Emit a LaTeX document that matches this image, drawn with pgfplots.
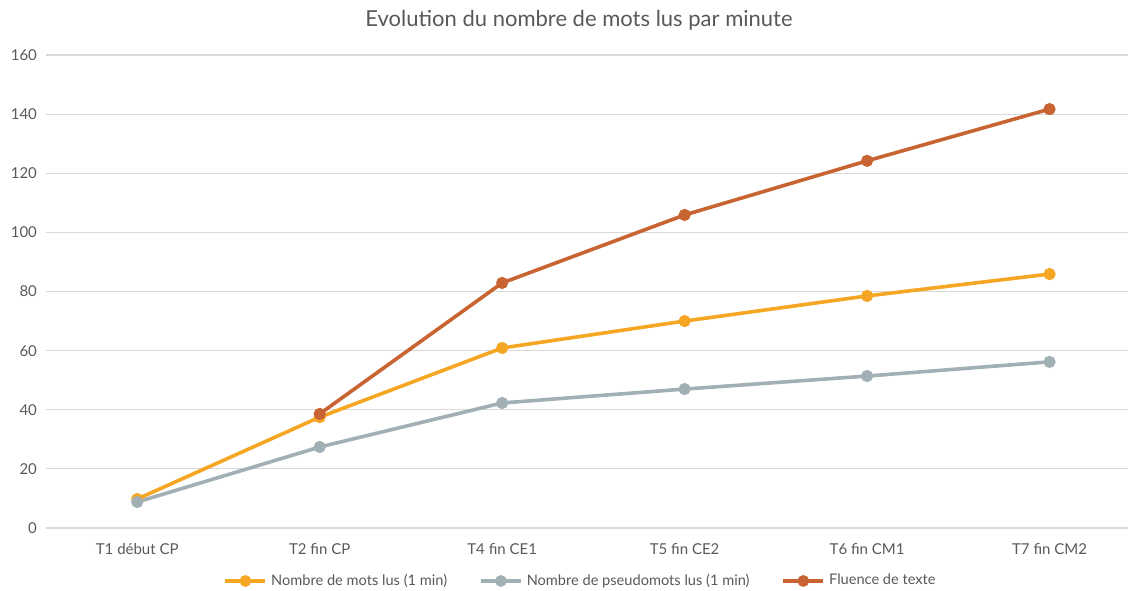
\documentclass[border=0pt]{standalone}
\usepackage{pgfplots}
\pgfplotsset{compat=1.18}
\usepackage{fontspec}
\setmainfont{Lato}
\definecolor{cOr}{RGB}{245,166,35}
\definecolor{cGr}{RGB}{160,176,180}
\definecolor{cRu}{RGB}{200,100,50}
\definecolor{cGrid}{RGB}{217,217,217}
\definecolor{cTxt}{RGB}{89,89,89}
\begin{document}
\begin{tikzpicture}
\useasboundingbox (0,0) rectangle (564pt,295pt);
\begin{axis}[
  at={(23pt,31pt)}, anchor=south west,
  scale only axis, width=541pt, height=236.5pt,
  xmin=-0.5, xmax=5.43, ymin=0, ymax=160,
  axis line style={draw=none},
  ymajorgrids, grid style={cGrid, line width=0.6pt},
  ytick={0,20,...,160},
  xtick={0,...,5},
  xticklabels={T1 début CP, T2 fin CP, T4 fin CE1, T5 fin CE2, T6 fin CM1, T7 fin CM2},
  /pgf/number format/assume math mode=true,
  tick label style={font=\fontsize{7.5pt}{9pt}\selectfont, text=cTxt},
  yticklabel style={xshift=-1pt},
  xticklabel style={yshift=-4pt},
  major tick length=0pt,
  clip=false,
  title={Evolution du nombre de mots lus par minute},
  title style={font=\fontsize{11pt}{13pt}\selectfont, text=cTxt, at={(0.4926,1.049)}, anchor=center},
  legend columns=3,
  legend style={draw=none, fill=none, at={(0.495,-0.112)}, anchor=center,
    font=\fontsize{7.3pt}{8.5pt}\selectfont, text=cTxt,
    /tikz/every even column/.append style={column sep=14pt}},
  legend image code/.code={\draw[#1] (0pt,0pt) -- (20pt,0pt); \fill[#1] (10pt,0pt) circle (2pt);},
  every axis plot/.append style={line width=1.8pt, mark=*, mark size=2.1pt},
]
\addplot[cOr, mark options={fill=cOr, draw=cOr}] coordinates {(0,9.8) (1,37.5) (2,60.9) (3,70.0) (4,78.5) (5,85.9)};
\addlegendentry{Nombre de mots lus (1 min)}
\addplot[cGr, mark options={fill=cGr, draw=cGr}] coordinates {(0,8.8) (1,27.4) (2,42.3) (3,47.0) (4,51.4) (5,56.2)};
\addlegendentry{Nombre de pseudomots lus (1 min)}
\addplot[cRu, mark options={fill=cRu, draw=cRu}] coordinates {(1,38.6) (2,82.9) (3,105.9) (4,124.2) (5,141.7)};
\addlegendentry{Fluence de texte}
\end{axis}
\end{tikzpicture}
\end{document}
